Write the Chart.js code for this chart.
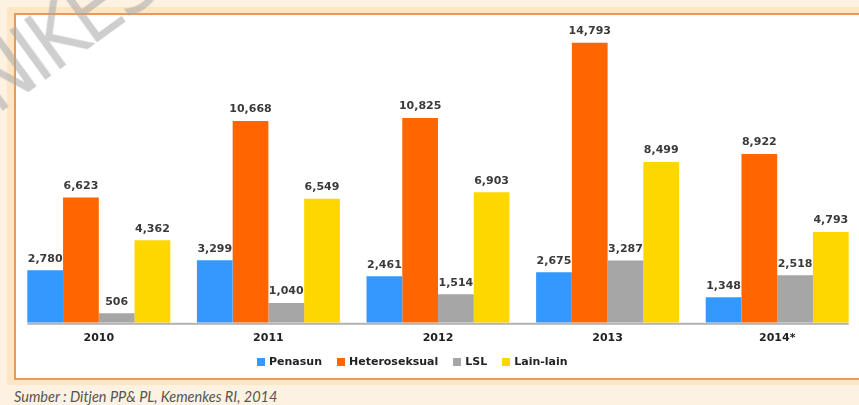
<!DOCTYPE html>
<html>
<head>
<meta charset="utf-8">
<script src="https://cdn.jsdelivr.net/npm/chart.js@4.4.1/dist/chart.umd.min.js"></script>
<style>
  html, body { margin: 0; padding: 0; }
  body {
    width: 859px; height: 405px; overflow: hidden; position: relative;
    background: #fdf2e2;
  }
  .band {
    position: absolute; left: 7px; top: 7px; width: 900px; height: 378px;
    background: #fde6c6;
  }
  .box {
    position: absolute; left: 14px; top: 13px; width: 880px; height: 363px;
    border: 2px solid #ea9a56; background: #fff;
  }
  .chart-wrap { position: absolute; left: 0; top: 0; width: 862px; height: 360px; }
  .legend {
    position: absolute; left: 257px; top: 355px; display: flex; align-items: center;
    font: bold 11px "DejaVu Sans", sans-serif; color: #222;
  }
  .legend span.item { display: flex; align-items: center; margin-right: 15px; }
  .legend i { display: inline-block; width: 8px; height: 8px; margin-right: 4px; }
  .source {
    position: absolute; left: 14px; top: 388px;
    font: italic 14.5px Lato, sans-serif; color: #555;
  }
  .watermark {
    position: absolute; left: -49px; top: 52px; transform-origin: 0 0;
    transform: rotate(-36deg);
    font: 84px "DejaVu Sans Condensed", sans-serif; color: rgba(165,165,165,0.55);
    letter-spacing: -4px; pointer-events: none; white-space: nowrap;
  }
</style>
</head>
<body>
<div class="band"></div>
<div class="box"></div>
<div class="chart-wrap"><canvas id="chart"></canvas></div>
<div class="legend" id="legend"></div>
<div class="source">Sumber : Ditjen PP&amp; PL, Kemenkes RI, 2014</div>
<div class="watermark">NIKES</div>
<script>
const years = ['2010', '2011', '2012', '2013', '2014*'];
const penasun = [2780, 3299, 2461, 2675, 1348];
const heteroseksual = [6623, 10668, 10825, 14793, 8922];
const lsl = [506, 1040, 1514, 3287, 2518];
const lainLain = [4362, 6549, 6903, 8499, 4793];

const seriesNames = ['Penasun', 'Heteroseksual', 'LSL', 'Lain-lain'];
const seriesValues = [penasun, heteroseksual, lsl, lainLain];
const seriesColors = ['#3399ff', '#ff6600', '#a6a6a6', '#ffd700'];

const fmt = v => v.toLocaleString('en-US');

// value labels above each bar
const valueLabels = {
  id: 'valueLabels',
  afterDatasetsDraw(chart) {
    const ctx = chart.ctx;
    ctx.save();
    ctx.font = 'bold 11px "DejaVu Sans", sans-serif';
    ctx.fillStyle = '#3a3a3a';
    ctx.textAlign = 'center';
    ctx.textBaseline = 'bottom';
    chart.data.datasets.forEach((ds, i) => {
      chart.getDatasetMeta(i).data.forEach((bar, j) => {
        ctx.fillText(fmt(ds.data[j]), bar.x, bar.y - 6);
      });
    });
    ctx.restore();
  }
};

// base line only as wide as the bars
const baseLine = {
  id: 'baseLine',
  afterDatasetsDraw(chart) {
    const first = chart.getDatasetMeta(0).data[0];
    const lastMeta = chart.getDatasetMeta(chart.data.datasets.length - 1).data;
    const last = lastMeta[lastMeta.length - 1];
    const left = first.x - first.width / 2;
    const right = last.x + last.width / 2;
    const ctx = chart.ctx;
    ctx.save();
    ctx.fillStyle = '#b3b3b3';
    ctx.fillRect(left, chart.chartArea.bottom, right - left, 2);
    ctx.restore();
  }
};

new Chart(document.getElementById('chart').getContext('2d'), {
  type: 'bar',
  data: {
    labels: years,
    datasets: seriesNames.map((name, i) => ({
      label: name,
      data: seriesValues[i],
      backgroundColor: seriesColors[i],
      borderWidth: 0,
      categoryPercentage: 0.843,
      barPercentage: 1
    }))
  },
  options: {
    responsive: true,
    maintainAspectRatio: false,
    animation: false,
    layout: { padding: { left: 14, right: 0, top: 20, bottom: 6 } },
    plugins: {
      legend: { display: false },
      tooltip: { enabled: false }
    },
    scales: {
      x: {
        grid: { display: false, drawTicks: false },
        border: { display: false },
        ticks: {
          padding: 9,
          color: '#222',
          font: { family: '"DejaVu Sans", sans-serif', size: 11, weight: 'bold' }
        }
      },
      y: { display: false, min: 0, max: 16000 }
    }
  },
  plugins: [valueLabels, baseLine]
});

const legend = document.getElementById('legend');
seriesNames.forEach((name, i) => {
  const item = document.createElement('span');
  item.className = 'item';
  item.innerHTML = '<i style="background:' + seriesColors[i] + '"></i>' + name;
  legend.appendChild(item);
});
</script>
</body>
</html>
